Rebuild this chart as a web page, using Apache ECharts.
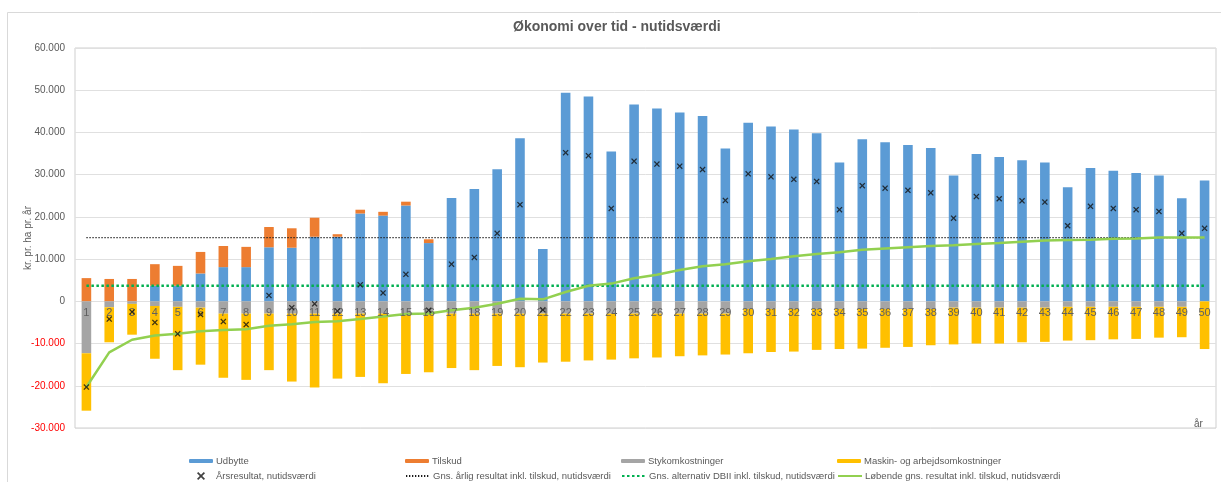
<!DOCTYPE html>
<html>
<head>
<meta charset="utf-8">
<script src="https://cdn.jsdelivr.net/npm/echarts@6/dist/echarts.min.js"></script>
<style>
  html, body { margin: 0; padding: 0; background: #fff; }
  #chart { width: 1221px; height: 482px; }
</style>
</head>
<body>
<div id="chart"></div>
<script>
// år 1..50
var aar = [];
for (var i = 1; i <= 50; i++) aar.push(String(i));

// kr. pr. ha pr. år
var udbytte = [0, 0, 0, 3700, 3700, 6600, 8100, 8100, 12800, 12700,
  15300, 15300, 20800, 20300, 22700, 13800, 24500, 26600, 31300, 38600,
  12400, 49400, 48500, 35500, 46600, 45700, 44700, 43900, 36200, 42300,
  41400, 40700, 39800, 32900, 38400, 37700, 37000, 36300, 29800, 34900,
  34200, 33400, 32900, 27000, 31600, 30900, 30400, 29800, 24400, 28600];

var tilskud = [5500, 5300, 5300, 5100, 4700, 5100, 5000, 4800, 4800, 4600,
  4500, 600, 900, 900, 900, 900, 0, 0, 0, 0,
  0, 0, 0, 0, 0, 0, 0, 0, 0, 0,
  0, 0, 0, 0, 0, 0, 0, 0, 0, 0,
  0, 0, 0, 0, 0, 0, 0, 0, 0, 0];

var stykomk = [-12300, -1400, -600, -1100, -1300, -1500, -2900, -2900, -2900, -2900,
  -2900, -2900, -2900, -2900, -2900, -2900, -2900, -2900, -2900, -2900,
  -2900, -2900, -2900, -2900, -2900, -2900, -2900, -2900, -2900, -1800,
  -1800, -1800, -1800, -1800, -1800, -1800, -1800, -1800, -1500, -1500,
  -1500, -1500, -1500, -1300, -1300, -1300, -1300, -1300, -1300, 0];

var maskin = [-13600, -8300, -7300, -12500, -15000, -13500, -15200, -15700, -13400, -16100,
  -17500, -15400, -15000, -16500, -14300, -13900, -12900, -13400, -12400, -12700,
  -11600, -11400, -11100, -10900, -10600, -10400, -10100, -9900, -9700, -10500,
  -10200, -10100, -9700, -9500, -9400, -9200, -9000, -8600, -8700, -8500,
  -8500, -8200, -8100, -8000, -7900, -7700, -7600, -7300, -7200, -11300];

var aarsresultat = [-20300, -4200, -2500, -5000, -7700, -3100, -4800, -5500, 1400, -1500,
  -600, -2300, 3900, 2000, 6400, -2100, 8800, 10400, 16100, 22900,
  -2000, 35200, 34500, 22000, 33200, 32500, 32000, 31200, 23900, 30200,
  29500, 28900, 28400, 21700, 27400, 26800, 26300, 25700, 19700, 24800,
  24300, 23800, 23500, 17900, 22500, 22000, 21700, 21300, 16100, 17300];

var loebendeGns = [-20300, -12100, -9100, -8100, -7700, -7100, -6800, -6600, -5800, -5400,
  -4900, -4700, -4200, -3600, -3000, -2900, -2100, -1500, -550, 630,
  470, 2200, 3700, 4200, 5450, 6300, 7400, 8300, 8800, 9500,
  10000, 10700, 11200, 11600, 12200, 12500, 12800, 13100, 13300, 13600,
  13800, 14100, 14400, 14500, 14600, 14800, 14900, 15100, 15100, 15100];

var gnsAarligResultat = 15100;
var gnsAlternativDBII = 3700;

var yTicks = { min: -30000, max: 60000, interval: 10000 };

var font = 'Liberation Sans';
var grey = '#595959';
var ingen = 'rgba(0,0,0,0)';

function fmt(v) {
  var s = String(Math.abs(v)).replace(/\B(?=(\d{3})+(?!\d))/g, '.');
  return v < 0 ? '-' + s : s;
}

// X-markør
var krydsSymbol = 'path://M0,1.5 L1.5,0 L5,3.5 L8.5,0 L10,1.5 L6.5,5 L10,8.5 L8.5,10 L5,6.5 L1.5,10 L0,8.5 L3.5,5 Z';

var myChart = echarts.init(document.getElementById('chart'));

// legende: fire kolonner, to rækker
var legendCols = [189, 405, 621, 837];
var legendRows = [
  ['Udbytte', 'Tilskud', 'Stykomkostninger', 'Maskin- og arbejdsomkostninger'],
  ['Årsresultat, nutidsværdi', 'Gns. årlig resultat inkl. tilskud, nutidsværdi',
   'Gns. alternativ DBII inkl. tilskud, nutidsværdi', 'Løbende gns. resultat inkl. tilskud, nutidsværdi']
];
var legends = [];
legendRows.forEach(function (row, r) {
  row.forEach(function (name, c) {
    legends.push({
      data: [name],
      // krydset tegnes smallere end de andre ikoner
      left: legendCols[c] + (r === 1 && c === 0 ? 8 : 0),
      top: r === 0 ? 456 : 471,
      padding: 0,
      itemWidth: 24,
      itemHeight: r === 0 ? 4 : 8,
      itemGap: 3,
      selectedMode: false,
      textStyle: { color: grey, fontSize: 9.5, fontFamily: font, padding: [0, 0, 0, -2] }
    });
  });
});

var option = {
  animation: false,
  backgroundColor: '#fff',
  title: {
    text: 'Økonomi over tid - nutidsværdi',
    left: 513,
    top: 20,
    padding: 0,
    textStyle: { color: grey, fontSize: 14, fontWeight: 'bold', fontFamily: font }
  },
  legend: legends,
  graphic: [
    {
      type: 'rect', z: -10, silent: true,
      shape: { x: 7.5, y: 12.5, width: 1240, height: 520 },
      style: { fill: 'none', stroke: '#D9D9D9', lineWidth: 1 }
    },
    {
      type: 'text', left: 1194, top: 419,
      style: { text: 'år', fill: grey, fontSize: 10, fontFamily: font }
    }
  ],
  grid: {
    left: 75, right: 5, top: 48, bottom: 54,
    show: true, borderColor: '#CFCFCF', borderWidth: 1
  },
  xAxis: {
    type: 'category',
    data: aar,
    z: 5,
    axisLine: { show: false, onZero: false },
    axisTick: { show: false },
    // etiketterne står lige under nul-linjen
    axisLabel: { color: '#606060', fontSize: 11, fontFamily: font, margin: -121, interval: 0 },
    splitLine: { show: false }
  },
  yAxis: {
    type: 'value',
    min: yTicks.min, max: yTicks.max, interval: yTicks.interval,
    name: 'kr. pr. ha pr. år',
    nameLocation: 'middle',
    nameGap: 42,
    nameMoveOverlap: false,
    nameTextStyle: { color: grey, fontSize: 10, fontFamily: font },
    axisLine: { show: false },
    axisTick: { show: false },
    axisLabel: {
      fontSize: 10, fontFamily: font, margin: 10,
      formatter: fmt,
      color: function (v) { return Number(v) < 0 ? '#FF0000' : grey; }
    },
    splitLine: { lineStyle: { color: '#E0E0E0', width: 1 } }
  },
  series: [
    { name: 'Udbytte', type: 'bar', stack: 'a', barWidth: '42%', data: udbytte,
      itemStyle: { color: '#5B9BD5' } },
    { name: 'Tilskud', type: 'bar', stack: 'a', data: tilskud,
      itemStyle: { color: '#ED7D31' } },
    { name: 'Stykomkostninger', type: 'bar', stack: 'a', data: stykomk,
      itemStyle: { color: '#A5A5A5' } },
    { name: 'Maskin- og arbejdsomkostninger', type: 'bar', stack: 'a', data: maskin,
      itemStyle: { color: '#FFC000' } },
    { name: 'Gns. årlig resultat inkl. tilskud, nutidsværdi', type: 'line', symbol: 'none',
      data: aar.map(function () { return gnsAarligResultat; }),
      lineStyle: { color: '#1a1a1a', width: 1.3, type: [1.3, 1.7] },
      itemStyle: { color: ingen }, z: 3 },
    { name: 'Gns. alternativ DBII inkl. tilskud, nutidsværdi', type: 'line', symbol: 'none',
      data: aar.map(function () { return gnsAlternativDBII; }),
      lineStyle: { color: '#00B050', width: 2.5, type: [2.5, 2.5] },
      itemStyle: { color: ingen }, z: 3 },
    { name: 'Løbende gns. resultat inkl. tilskud, nutidsværdi', type: 'line', symbol: 'none',
      data: loebendeGns,
      lineStyle: { color: '#92D050', width: 2.5 },
      itemStyle: { color: ingen }, z: 4 },
    { name: 'Årsresultat, nutidsværdi', type: 'scatter', symbol: krydsSymbol, symbolSize: 6,
      data: aarsresultat,
      itemStyle: { color: '#111' }, z: 6 }
  ]
};

myChart.setOption(option);
</script>
</body>
</html>
